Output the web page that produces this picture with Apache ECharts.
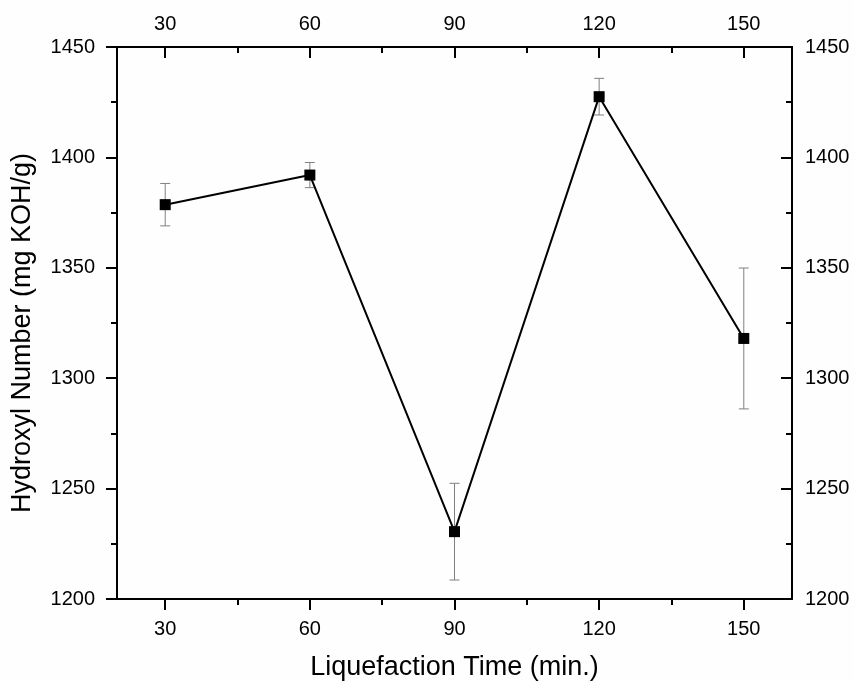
<!DOCTYPE html>
<html>
<head>
<meta charset="utf-8">
<script src="https://cdn.jsdelivr.net/npm/echarts@6/dist/echarts.min.js"></script>
<style>
  html, body { margin: 0; padding: 0; background: #fefefe; }
  #chart { width: 854px; height: 681px; }
</style>
</head>
<body>
<div id="chart"></div>
<script>
// data
const times = [30, 60, 90, 120, 150];
const hydroxyl = [1378.6, 1392.0, 1230.5, 1427.5, 1318.0];
const errors = [9.6, 5.7, 21.9, 8.3, 31.9];
const majorX = [30, 60, 90, 120, 150];
const minorX = [45, 75, 105, 135];

const FONT = "Arial, 'Liberation Sans', sans-serif";
const axisColor = "#000";

const points = times.map((t, i) => [t, hydroxyl[i]]);
const bars = times.map((t, i) => [t, hydroxyl[i] - errors[i], hydroxyl[i] + errors[i]]);

const plain = (v) => String(v);

const xBase = {
  type: "value",
  min: 20,
  max: 160,
  gridIndex: 0,
  splitLine: { show: false },
};

const chart = echarts.init(document.getElementById("chart"));
chart.setOption({
  backgroundColor: "#fefefe",
  animation: false,
  grid: { left: 117, right: 62, top: 47, bottom: 82, outerBoundsMode: "none", containLabel: false },
  xAxis: [
    {
      ...xBase,
      position: "bottom",
      name: "Liquefaction Time (min.)",
      nameLocation: "middle",
      nameGap: 55,
      nameTextStyle: { fontFamily: FONT, fontSize: 27, color: "#000" },
      axisLine: { show: true, onZero: false, lineStyle: { color: axisColor, width: 2 } },
      axisTick: { show: true, inside: false, length: 11, lineStyle: { width: 2 }, customValues: majorX },
      axisLabel: { fontFamily: FONT, fontSize: 20, color: "#000", margin: 20, customValues: majorX, formatter: plain },
    },
    {
      ...xBase,
      position: "bottom",
      axisLine: { show: false, onZero: false },
      axisTick: { show: true, inside: false, length: 6, lineStyle: { width: 2, color: axisColor }, customValues: minorX },
      axisLabel: { show: false },
    },
    {
      ...xBase,
      position: "top",
      axisLine: { show: true, onZero: false, lineStyle: { color: axisColor, width: 2 } },
      axisTick: { show: true, inside: true, length: 11, lineStyle: { width: 2 }, customValues: majorX },
      axisLabel: { fontFamily: FONT, fontSize: 20, color: "#000", margin: 13, customValues: majorX, formatter: plain },
    },
    {
      ...xBase,
      position: "top",
      axisLine: { show: false, onZero: false },
      axisTick: { show: true, inside: true, length: 6, lineStyle: { width: 2, color: axisColor }, customValues: minorX },
      axisLabel: { show: false },
    },
  ],
  yAxis: [
    {
      type: "value",
      position: "left",
      min: 1200,
      max: 1450,
      interval: 50,
      name: "Hydroxyl Number (mg KOH/g)",
      nameLocation: "middle",
      nameGap: 81,
      nameTextStyle: { fontFamily: FONT, fontSize: 27, color: "#000", padding: [0, 20, 0, 0] },
      splitLine: { show: false },
      axisLine: { show: true, onZero: false, lineStyle: { color: axisColor, width: 2 } },
      axisTick: { show: true, inside: false, length: 11, lineStyle: { width: 2 } },
      minorTick: { show: true, splitNumber: 2, length: 6, lineStyle: { color: axisColor, width: 2 } },
      axisLabel: { fontFamily: FONT, fontSize: 20, color: "#000", margin: 22, formatter: plain },
    },
    {
      type: "value",
      position: "right",
      min: 1200,
      max: 1450,
      interval: 50,
      splitLine: { show: false },
      axisLine: { show: true, onZero: false, lineStyle: { color: axisColor, width: 2 } },
      axisTick: { show: true, inside: true, length: 11, lineStyle: { width: 2 } },
      minorTick: { show: true, splitNumber: 2, length: 6, lineStyle: { color: axisColor, width: 2 } },
      axisLabel: { fontFamily: FONT, fontSize: 20, color: "#000", margin: 13, formatter: plain },
    },
  ],
  series: [
    {
      type: "custom",
      xAxisIndex: 0,
      yAxisIndex: 0,
      data: bars,
      z: 1,
      renderItem: (params, api) => {
        const x = api.value(0);
        const lo = api.coord([x, api.value(1)]);
        const hi = api.coord([x, api.value(2)]);
        const half = 5;
        const style = { stroke: "#808080", lineWidth: 1, fill: null };
        return {
          type: "group",
          children: [
            { type: "line", shape: { x1: hi[0], y1: hi[1], x2: lo[0], y2: lo[1] }, style },
            { type: "line", shape: { x1: hi[0] - half, y1: hi[1], x2: hi[0] + half, y2: hi[1] }, style },
            { type: "line", shape: { x1: lo[0] - half, y1: lo[1], x2: lo[0] + half, y2: lo[1] }, style },
          ],
        };
      },
    },
    {
      type: "line",
      xAxisIndex: 0,
      yAxisIndex: 0,
      data: points,
      z: 3,
      symbol: "rect",
      symbolSize: 11,
      itemStyle: { color: "#000" },
      lineStyle: { color: "#000", width: 2 },
    },
  ],
});
</script>
</body>
</html>
